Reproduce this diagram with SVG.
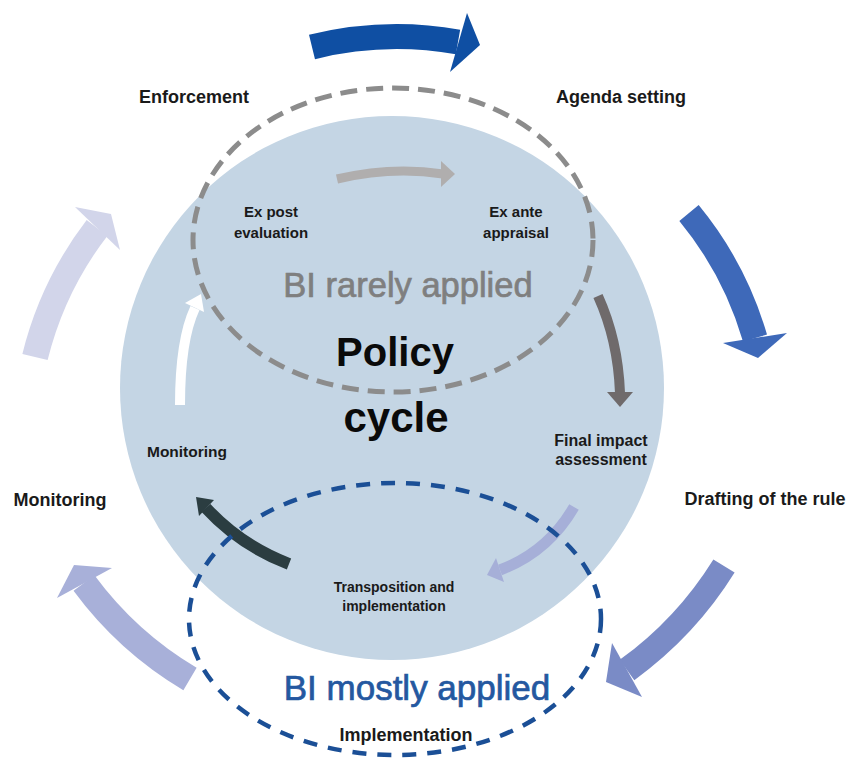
<svg xmlns="http://www.w3.org/2000/svg" width="849" height="769" viewBox="0 0 849 769">
<style>
text{font-family:"Liberation Sans",Arial,sans-serif;text-anchor:middle}
.lbl{font-size:18px;font-weight:bold;fill:#1a1a1a}
.sm{font-weight:bold;fill:#1a1a1a}
.body{fill:none;stroke-linecap:butt}
.bi{stroke-width:0.7px}
</style>
<rect width="849" height="769" fill="#ffffff"/>
<g id="policy-cycle">
<circle cx="392" cy="388" r="272" fill="#c4d5e4"/>
<text x="395" y="366" style="font-size:40px;font-weight:bold" fill="#0a0a0a">Policy</text>
<text x="396" y="432" style="font-size:42px;font-weight:bold" fill="#0a0a0a">cycle</text>
</g>
<g id="connectors">
<path class="body" d="M312,47 A354,354 0 0 1 458,42" stroke="#0f4fa3" stroke-width="25"/>
<polygon points="467,13 480,45 450,72" fill="#0f4fa3"/>
<path class="body" d="M689,213 A352,352 0 0 1 755,338" stroke="#3e69b9" stroke-width="25"/>
<polygon points="723,343 787,333 758,358" fill="#3e69b9"/>
<path class="body" d="M724,566 A368,368 0 0 1 627,670" stroke="#7a8bc6" stroke-width="25"/>
<polygon points="612,643 606,682 642,697" fill="#7a8bc6"/>
<path class="body" d="M190,679 A360,360 0 0 1 84,583" stroke="#a8b0d9" stroke-width="26"/>
<polygon points="57,598 74,565 112,568" fill="#a8b0d9"/>
<path class="body" d="M35,357 A350,350 0 0 1 97,228" stroke="#d2d5ea" stroke-width="26"/>
<polygon points="75,207 111,214 120,250" fill="#d2d5ea"/>
<path class="body" d="M337,179 Q392,166 443,174" stroke="#b0aeae" stroke-width="9"/>
<polygon points="441,161 455,174 441,187" fill="#b0aeae"/>
<path class="body" d="M598,296 Q618,340 620,393" stroke="#6f6a6b" stroke-width="10"/>
<polygon points="607,392 633,392 620,407" fill="#6f6a6b"/>
<path class="body" d="M574,507 Q548,552 500,570" stroke="#a6afd8" stroke-width="11"/>
<polygon points="496,558 487,575 504,582" fill="#a6afd8"/>
<path class="body" d="M289,564 Q240,545 206,508" stroke="#2b3d41" stroke-width="12"/>
<polygon points="214,500 196,497 199,516" fill="#2b3d41"/>
<path class="body" d="M180,405 Q180,340 195,308" stroke="#ffffff" stroke-width="10"/>
<polygon points="185,303 201,294 204,312" fill="#ffffff"/>
</g>
<g id="bi-rarely">
<ellipse cx="393" cy="240" rx="200" ry="152" fill="none" stroke="#8c8c8c" stroke-width="5" stroke-dasharray="17 9"/>
<text class="bi" x="408" y="297" font-size="34.5" fill="#7f7f7f" stroke="#7f7f7f">BI rarely applied</text>
</g>
<g id="bi-mostly">
<ellipse cx="395" cy="619" rx="206" ry="136" fill="none" stroke="#1b4f96" stroke-width="4.5" stroke-dasharray="14 11"/>
<text class="bi" x="417" y="700" font-size="35" fill="#2458a0" stroke="#2458a0">BI mostly applied</text>
</g>
<g id="enforcement"><text class="lbl" x="194" y="103">Enforcement</text></g>
<g id="agenda-setting"><text class="lbl" x="621" y="103">Agenda setting</text></g>
<g id="drafting"><text class="lbl" x="765" y="505">Drafting of the rule</text></g>
<g id="monitoring-outer"><text class="lbl" x="60" y="506">Monitoring</text></g>
<g id="implementation"><text class="lbl" x="406" y="741" fill="#222222">Implementation</text></g>
<g id="ex-post"><text class="sm" x="271" y="217" font-size="15">Ex post</text><text class="sm" x="271" y="238" font-size="15">evaluation</text></g>
<g id="ex-ante"><text class="sm" x="516" y="217" font-size="15">Ex ante</text><text class="sm" x="516" y="238" font-size="15">appraisal</text></g>
<g id="final-impact"><text class="sm" x="601" y="446" font-size="16">Final impact</text><text class="sm" x="601" y="465" font-size="16">assessment</text></g>
<g id="transposition"><text class="sm" x="394" y="592" font-size="14">Transposition and</text><text class="sm" x="394" y="611" font-size="14">implementation</text></g>
<g id="monitoring-inner"><text class="sm" x="187" y="457" font-size="15.5">Monitoring</text></g>
</svg>
